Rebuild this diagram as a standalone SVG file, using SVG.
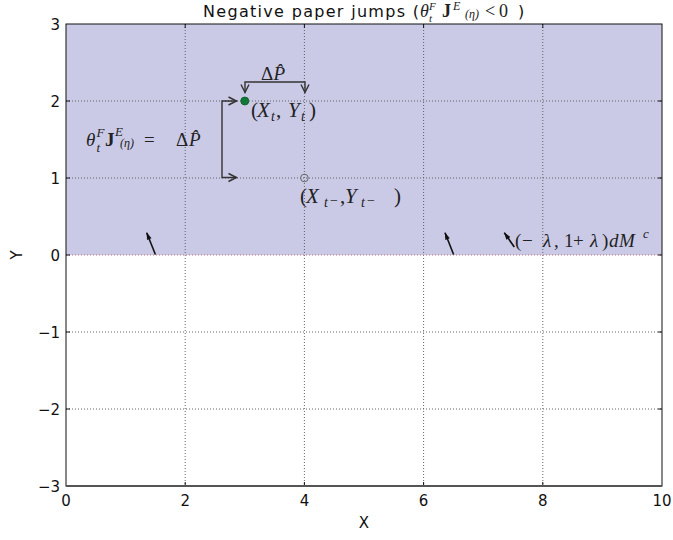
<svg xmlns="http://www.w3.org/2000/svg" width="673" height="540" viewBox="0 0 673 540">
<style>
.sans{font-family:"DejaVu Sans","Liberation Sans",sans-serif;fill:#111}
.tick{font-size:15px}
.m{font-family:"Liberation Serif","DejaVu Serif",serif;fill:#222}
.i{font-style:italic}
.grid{stroke:#555;stroke-width:0.9;stroke-dasharray:1 2;fill:none}
.tk{stroke:#111;stroke-width:1}
.ann{stroke:#333;stroke-width:1.4;fill:none}
.quiv{stroke:#111;stroke-width:1.6;fill:none}
</style>
<defs>
<marker id="open" markerUnits="userSpaceOnUse" markerWidth="10" markerHeight="9" refX="8" refY="4" orient="auto-start-reverse" overflow="visible">
<path d="M0,0 L8,4 L0,8" fill="none" stroke="#333" stroke-width="1.4"/>
</marker>
<marker id="qhead" markerUnits="userSpaceOnUse" markerWidth="9" markerHeight="7" refX="7" refY="3" orient="auto" overflow="visible">
<path d="M0,0.6 L7.5,3 L0,5.4 z" fill="#111"/>
</marker>
</defs>
<rect width="673" height="540" fill="#ffffff"/>
<g id="axes">
<rect id="shade" x="66" y="24" width="596" height="231" fill="#cbcae6"/>
<g id="grid">
<path class="grid" d="M185.2,24V486M304.4,24V486M423.6,24V486M542.8,24V486"/>
<path class="grid" d="M66,101H662M66,178H662M66,332H662M66,409H662"/>
<path d="M66,255H662" stroke="#c56a7a" stroke-width="1" stroke-dasharray="1 2"/>
</g>
<g id="ticks">
<path class="tk" d="M185.2,486v-4M304.4,486v-4M423.6,486v-4M542.8,486v-4M185.2,24v4M304.4,24v4M423.6,24v4M542.8,24v4"/>
<path class="tk" d="M66,101h4M66,178h4M66,255h4M66,332h4M66,409h4M662,101h-4M662,178h-4M662,255h-4M662,332h-4M662,409h-4"/>
</g>
<rect x="66" y="24" width="596" height="462" fill="none" stroke="#111" stroke-width="1"/>
<path d="M66,486H662" stroke="#555" stroke-width="2"/>
<g id="xticklabels" class="sans tick" text-anchor="middle">
<text x="66" y="506">0</text>
<text x="185.2" y="506">2</text>
<text x="304.4" y="506">4</text>
<text x="423.6" y="506">6</text>
<text x="542.8" y="506">8</text>
<text x="662" y="506">10</text>
</g>
<g id="yticklabels" class="sans tick" text-anchor="end">
<text x="60" y="29.5">3</text>
<text x="60" y="106.5">2</text>
<text x="60" y="183.5">1</text>
<text x="60" y="260.5">0</text>
<text x="60" y="337.5">−1</text>
<text x="60" y="414.5">−2</text>
<text x="60" y="491.5">−3</text>
</g>
<text class="sans tick" x="364" y="528" text-anchor="middle">X</text>
<text class="sans tick" x="0" y="0" text-anchor="middle" transform="translate(22,255) rotate(-90)">Y</text>
</g>
<g id="title">
<text class="sans" x="203" y="17" font-size="16" textLength="216">Negative paper jumps (</text>
<text class="m i" x="420" y="17" font-size="18">θ</text>
<text class="m i" x="429" y="10" font-size="11">F</text>
<text class="m i" x="429" y="22" font-size="11">t</text>
<text class="m" x="442" y="17" font-size="18" font-weight="bold">J</text>
<text class="m i" x="453" y="10" font-size="12">E</text>
<text class="m i" x="465" y="18" font-size="12">(η)</text>
<text class="m" x="485" y="17" font-size="18">&lt;</text>
<text class="m" x="499" y="17" font-size="18">0</text>
<text class="sans" x="518" y="17" font-size="16">)</text>
</g>
<g id="connectors">
<path id="bracket-left" class="ann" d="M236.5,101H222V177.5H236.5" marker-start="url(#open)" marker-end="url(#open)"/>
<path id="bracket-top" class="ann" d="M245,92.5V82H305V92.5" marker-start="url(#open)" marker-end="url(#open)"/>
<line id="quiver1" class="quiv" x1="155.4" y1="254.5" x2="146.7" y2="232.7" marker-end="url(#qhead)"/>
<line id="quiver2" class="quiv" x1="453.6" y1="254.5" x2="445" y2="232.7" marker-end="url(#qhead)"/>
<line id="quiver-key" class="quiv" x1="514.3" y1="247" x2="504.3" y2="232.7" marker-end="url(#qhead)"/>
</g>
<g id="point-new">
<circle cx="244.8" cy="101" r="4" fill="#0e7a36" stroke="#0a5a28" stroke-width="0.8"/>
<text class="m" y="117" font-size="21"><tspan x="251">(</tspan><tspan x="257" class="i">X</tspan><tspan x="271" dy="4" font-size="14" class="i">t</tspan><tspan x="276" dy="-4">,</tspan><tspan x="288" class="i">Y</tspan><tspan x="301" dy="4" font-size="14" class="i">t</tspan><tspan x="309" dy="-4">)</tspan></text>
</g>
<g id="point-old">
<circle cx="304.4" cy="178" r="3.8" fill="none" stroke="#666" stroke-width="1"/>
<text class="m" y="203" font-size="21"><tspan x="300">(</tspan><tspan x="306" class="i">X</tspan><tspan x="324" dy="4" font-size="14" class="i">t</tspan><tspan x="330" dy="-2" font-size="14">−</tspan><tspan x="340" dy="-2">,</tspan><tspan x="345" class="i">Y</tspan><tspan x="361" dy="4" font-size="14" class="i">t</tspan><tspan x="367" dy="-2" font-size="14">−</tspan><tspan x="394" dy="-2">)</tspan></text>
</g>
<g id="label-jump">
<text class="m i" x="86" y="146" font-size="19">θ</text>
<text class="m i" x="96.5" y="137" font-size="13">F</text>
<text class="m i" x="96.5" y="152" font-size="13">t</text>
<text class="m" x="105" y="146" font-size="19" font-weight="bold">J</text>
<text class="m i" x="115" y="136" font-size="13">E</text>
<text class="m i" x="120" y="147" font-size="12">(η)</text>
<text class="m" x="144" y="146" font-size="19">=</text>
<text class="m" x="176" y="146" font-size="19">Δ</text>
<text class="m i" x="189" y="146" font-size="19">P̂</text>
</g>
<g id="label-deltaP">
<text class="m" x="261" y="80" font-size="19">Δ</text>
<text class="m i" x="273.5" y="80" font-size="19">P̂</text>
</g>
<g id="label-quiver">
<text class="m" y="247" font-size="19"><tspan x="515">(</tspan><tspan x="522">−</tspan><tspan x="543" class="i">λ</tspan><tspan x="554">,</tspan><tspan x="564">1</tspan><tspan x="573">+</tspan><tspan x="590" class="i">λ</tspan><tspan x="602">)</tspan><tspan x="609" class="i">d</tspan><tspan x="619" class="i">M</tspan><tspan x="643" y="238" font-size="13" class="i">c</tspan></text>
</g>
</svg>
